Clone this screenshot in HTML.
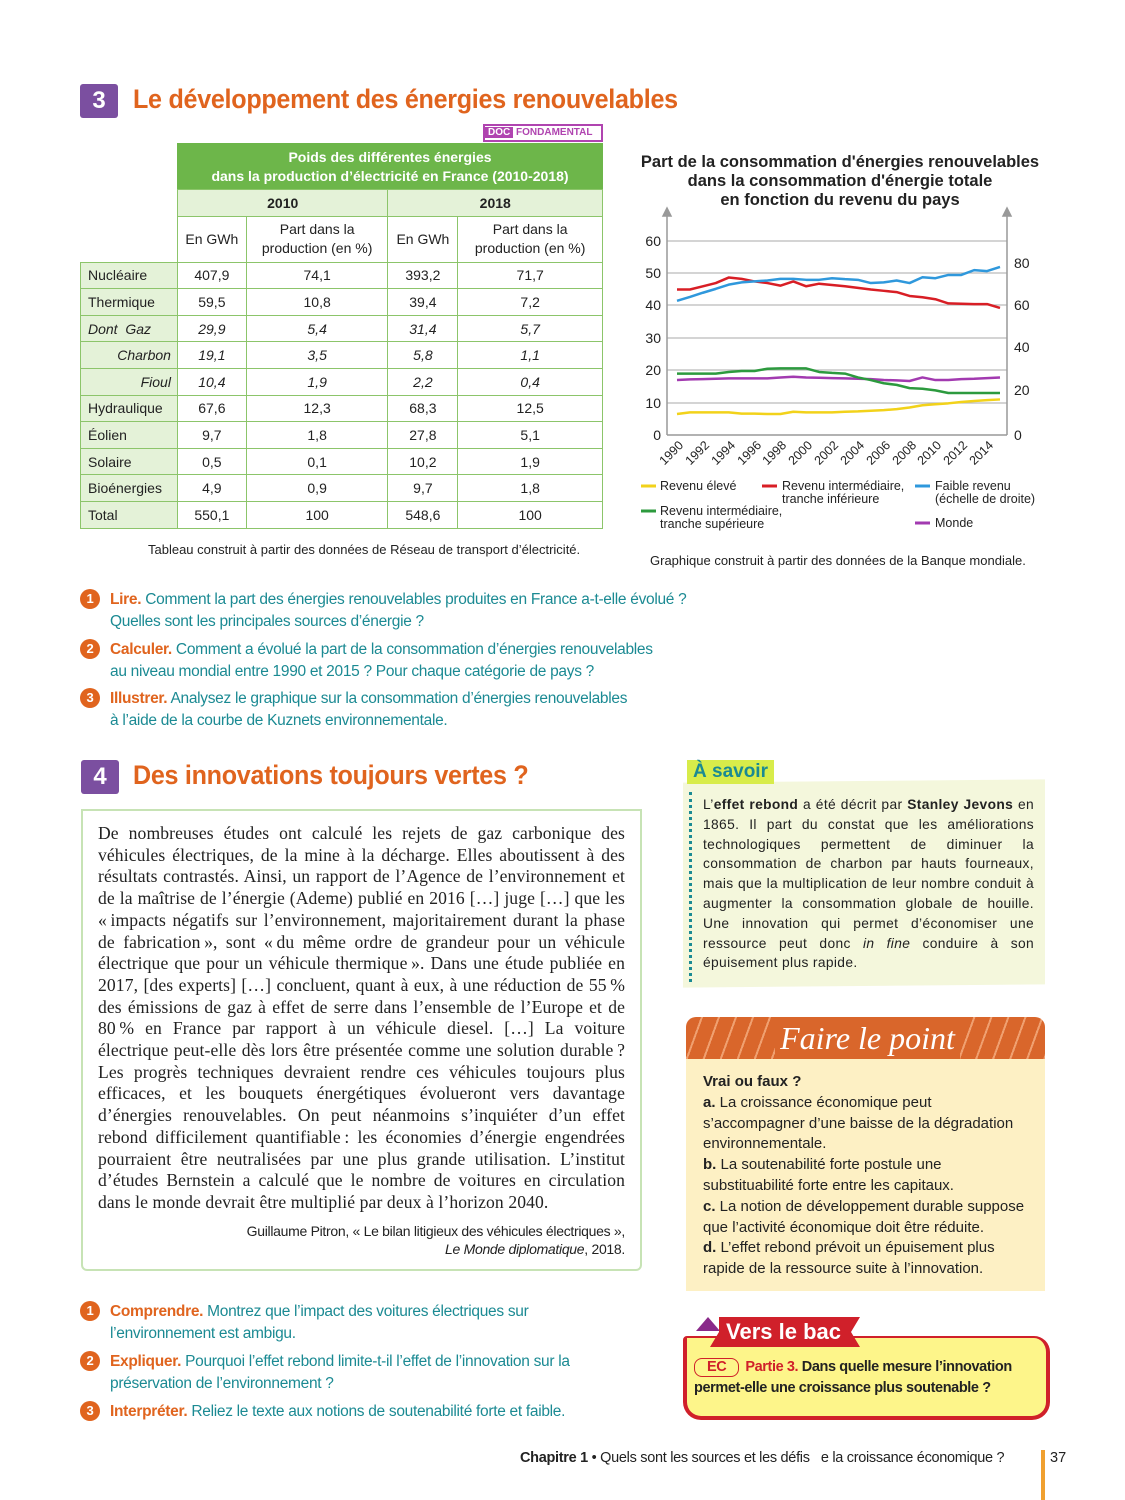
<!DOCTYPE html>
<html><head><meta charset="utf-8"><style>
*{margin:0;padding:0;box-sizing:border-box}
body{width:1125px;height:1500px;position:relative;background:#fff;font-family:"Liberation Sans",sans-serif;color:#222;overflow:hidden}
.a{position:absolute}
.num{background:#7b4fa0;color:#fff;font-weight:bold;font-size:24px;text-align:center;border-radius:3px}
.ttl{color:#e0641e;font-weight:bold;font-size:27px;letter-spacing:-0.3px;transform-origin:0 0;transform:scaleX(0.93);white-space:nowrap}
table{border-collapse:collapse;font-size:14px}
td{border:1px solid #8cc56a;text-align:center;height:26.6px;padding:0}
td.l{background:#e4f2d8;text-align:left;padding-left:7px}
.q{font-size:15.5px;color:#1b8a93;line-height:22px;letter-spacing:-0.3px}
.q b{color:#e0641e}
.c{display:inline-block;width:20px;height:20px;border-radius:50%;background:#e0641e;color:#fff;font-weight:bold;font-size:13px;text-align:center;line-height:20px;position:absolute;left:0;top:0}
.txt{font-family:"Liberation Serif",serif;font-size:17.6px;line-height:21.7px;text-align:justify;color:#222;letter-spacing:0.1px}
.lg{font-size:12.5px;line-height:13px;color:#222}
</style></head><body>

<div class="a num" style="left:80px;top:84px;width:38px;height:34px;line-height:34px">3</div>
<div class="a ttl" style="left:133px;top:84px">Le développement des énergies renouvelables</div>
<div class="a" style="left:483px;top:124px;width:120px;height:18px;border:2px solid #b044b0;font-size:10px;font-weight:bold;line-height:14px;color:#b044b0;white-space:nowrap;overflow:hidden"><span style="background:#b044b0;color:#fff;padding:0 3px">DOC</span> FONDAMENTAL</div>

<div class="a" style="left:177px;top:143px;width:426px;height:46px;background:#6db64a;color:#fff;font-weight:bold;font-size:14px;text-align:center;line-height:19px;padding-top:5px">Poids des différentes énergies<br>dans la production d’électricité en France (2010-2018)</div>
<table class="a" style="left:80px;top:189px;width:523px">
<colgroup><col style="width:97px"><col style="width:69px"><col style="width:142px"><col style="width:70px"><col style="width:145px"></colgroup>
<tr><td style="border:none;border-right:1px solid #8cc56a"></td><td colspan="2" style="background:#e4f2d8;font-weight:bold">2010</td><td colspan="2" style="background:#e4f2d8;font-weight:bold">2018</td></tr>
<tr style="height:46px"><td style="border:none;border-right:1px solid #8cc56a;border-bottom:1px solid #8cc56a"></td><td>En GWh</td><td style="line-height:19px">Part dans la<br>production (en %)</td><td>En GWh</td><td style="line-height:19px">Part dans la<br>production (en %)</td></tr>
<tr><td class="l">Nucléaire</td><td>407,9</td><td>74,1</td><td>393,2</td><td>71,7</td></tr>
<tr><td class="l">Thermique</td><td>59,5</td><td>10,8</td><td>39,4</td><td>7,2</td></tr>
<tr style="font-style:italic"><td class="l">Dont &nbsp;<i>Gaz</i></td><td>29,9</td><td>5,4</td><td>31,4</td><td>5,7</td></tr>
<tr style="font-style:italic"><td class="l" style="text-align:right;padding-right:6px">Charbon</td><td>19,1</td><td>3,5</td><td>5,8</td><td>1,1</td></tr>
<tr style="font-style:italic"><td class="l" style="text-align:right;padding-right:6px">Fioul</td><td>10,4</td><td>1,9</td><td>2,2</td><td>0,4</td></tr>
<tr><td class="l">Hydraulique</td><td>67,6</td><td>12,3</td><td>68,3</td><td>12,5</td></tr>
<tr><td class="l">Éolien</td><td>9,7</td><td>1,8</td><td>27,8</td><td>5,1</td></tr>
<tr><td class="l">Solaire</td><td>0,5</td><td>0,1</td><td>10,2</td><td>1,9</td></tr>
<tr><td class="l">Bioénergies</td><td>4,9</td><td>0,9</td><td>9,7</td><td>1,8</td></tr>
<tr><td class="l">Total</td><td>550,1</td><td>100</td><td>548,6</td><td>100</td></tr>
</table>
<div class="a" style="left:148px;top:542px;font-size:13px">Tableau construit à partir des données de Réseau de transport d’électricité.</div>

<div class="a" style="left:640px;top:153px;width:400px;text-align:center;font-weight:bold;font-size:16.5px;line-height:19px">Part de la consommation d'énergies renouvelables<br>dans la consommation d'énergie totale<br>en fonction du revenu du pays</div>

<svg class="a" style="left:0;top:0" width="1125" height="600">
<g stroke="#bbb" stroke-width="1.2">
<line x1="667" y1="241" x2="1007" y2="241"/><line x1="667" y1="273" x2="1007" y2="273"/><line x1="667" y1="305" x2="1007" y2="305"/><line x1="667" y1="338" x2="1007" y2="338"/><line x1="667" y1="370" x2="1007" y2="370"/><line x1="667" y1="403" x2="1007" y2="403"/>
</g>
<g stroke="#999" stroke-width="1.5" fill="#999">
<line x1="667" y1="215" x2="667" y2="435"/><line x1="1007" y1="215" x2="1007" y2="435"/><line x1="667" y1="435" x2="1007" y2="435"/>
<polygon points="663,216 671,216 667,208"/><polygon points="1003,216 1011,216 1007,208"/>
</g>
<g font-size="14" fill="#222" text-anchor="end" font-family="Liberation Sans">
<text x="661" y="246">60</text><text x="661" y="278">50</text><text x="661" y="310">40</text><text x="661" y="343">30</text><text x="661" y="375">20</text><text x="661" y="408">10</text><text x="661" y="440">0</text>
</g>
<g font-size="14" fill="#222" font-family="Liberation Sans">
<text x="1014" y="268">80</text><text x="1014" y="310">60</text><text x="1014" y="352">40</text><text x="1014" y="395">20</text><text x="1014" y="440">0</text>
</g>
<g font-size="12.5" fill="#222" text-anchor="end" font-family="Liberation Sans">
<text transform="translate(684,446) rotate(-45)">1990</text><text transform="translate(710,446) rotate(-45)">1992</text><text transform="translate(736,446) rotate(-45)">1994</text><text transform="translate(762,446) rotate(-45)">1996</text><text transform="translate(787,446) rotate(-45)">1998</text><text transform="translate(813,446) rotate(-45)">2000</text><text transform="translate(839,446) rotate(-45)">2002</text><text transform="translate(865,446) rotate(-45)">2004</text><text transform="translate(891,446) rotate(-45)">2006</text><text transform="translate(917,446) rotate(-45)">2008</text><text transform="translate(942,446) rotate(-45)">2010</text><text transform="translate(968,446) rotate(-45)">2012</text><text transform="translate(994,446) rotate(-45)">2014</text>
</g>
<g transform="translate(677,435) scale(12.92,-3.233)" fill="none" stroke-width="2.5" stroke-linejoin="round">
<polyline vector-effect="non-scaling-stroke" stroke="#f2d21a" points="0,6.5 1,7 2,7 3,7 4,7 5,6.6 6,6.6 7,6.5 8,6.5 9,7.2 10,7 11,7 12,7 13,7.2 14,7.3 15,7.5 16,7.7 17,8 18,8.5 19,9.2 20,9.5 21,9.8 22,10.2 23,10.5 24,10.8 25,11"/>
<polyline vector-effect="non-scaling-stroke" stroke="#a23ab0" points="0,17 1,17.2 2,17.3 3,17.4 4,17.5 5,17.5 6,17.5 7,17.5 8,17.8 9,18 10,17.8 11,17.7 12,17.6 13,17.5 14,17.4 15,17.3 16,17 17,16.9 18,16.7 19,17.8 20,17 21,17 22,17.3 23,17.4 24,17.6 25,17.8"/>
<polyline vector-effect="non-scaling-stroke" stroke="#2c9a3e" points="0,19 1,19 2,19 3,19 4,19.5 5,19.8 6,19.8 7,20.5 8,20.6 9,20.6 10,20.6 11,19.5 12,19.2 13,19 14,17.8 15,17 16,16 17,15.5 18,14.5 19,14.3 20,13.8 21,13 22,13 23,13 24,13 25,13"/>
<polyline vector-effect="non-scaling-stroke" stroke="#d81e25" points="0,45 1,45 2,46 3,47 4,48.7 5,48.3 6,47.5 7,47 8,46.2 9,47.5 10,46 11,46.8 12,46.4 13,46 14,45.5 15,45 16,44.6 17,44.2 18,43 19,42.6 20,42 21,40.7 22,40.6 23,40.5 24,40.5 25,39.3"/>
<polyline vector-effect="non-scaling-stroke" stroke="#2f98dc" points="0,41.5 1,42.7 2,44 3,45.2 4,46.5 5,47.2 6,47.5 7,47.8 8,48.3 9,48.3 10,48 11,48 12,48.5 13,48.2 14,48 15,47 16,47.2 17,47.8 18,47 19,48.8 20,48.5 21,49.5 22,49.5 23,51 24,50.7 25,52"/>
</g>
<g stroke-width="3">
<line x1="641" y1="486" x2="656" y2="486" stroke="#f2d21a"/><line x1="762" y1="486" x2="777" y2="486" stroke="#d81e25"/><line x1="915" y1="486" x2="930" y2="486" stroke="#2f98dc"/><line x1="641" y1="511" x2="656" y2="511" stroke="#2c9a3e"/><line x1="915" y1="523" x2="930" y2="523" stroke="#a23ab0"/>
</g>
</svg>
<div class="a lg" style="left:660px;top:480px">Revenu élevé</div>
<div class="a lg" style="left:782px;top:480px">Revenu intermédiaire,<br>tranche inférieure</div>
<div class="a lg" style="left:935px;top:480px">Faible revenu<br>(échelle de droite)</div>
<div class="a lg" style="left:660px;top:505px">Revenu intermédiaire,<br>tranche supérieure</div>
<div class="a lg" style="left:935px;top:517px">Monde</div>
<div class="a" style="left:650px;top:553px;font-size:13px">Graphique construit à partir des données de la Banque mondiale.</div>

<div class="a q" style="left:80px;top:589px;width:650px;padding-left:30px"><span class="c">1</span><b>Lire.</b> Comment la part des énergies renouvelables produites en France a-t-elle évolué ?<br>Quelles sont les principales sources d’énergie ?</div>
<div class="a q" style="left:80px;top:639px;width:650px;padding-left:30px"><span class="c">2</span><b>Calculer.</b> Comment a évolué la part de la consommation d’énergies renouvelables<br>au niveau mondial entre 1990 et 2015 ? Pour chaque catégorie de pays ?</div>
<div class="a q" style="left:80px;top:688px;width:650px;padding-left:30px"><span class="c">3</span><b>Illustrer.</b> Analysez le graphique sur la consommation d’énergies renouvelables<br>à l’aide de la courbe de Kuznets environnementale.</div>

<div class="a num" style="left:81px;top:760px;width:38px;height:34px;line-height:34px">4</div>
<div class="a ttl" style="left:133px;top:760px">Des innovations toujours vertes ?</div>

<div class="a" style="left:81px;top:809px;width:561px;height:462px;border:2px solid #c7e3b5;border-radius:0 0 6px 6px"></div>
<div class="a txt" style="left:98px;top:823px;width:527px">De nombreuses études ont calculé les rejets de gaz carbonique des véhicules électriques, de la mine à la décharge. Elles aboutissent à des résultats contrastés. Ainsi, un rapport de l’Agence de l’environnement et de la maîtrise de l’énergie (Ademe) publié en 2016 […] juge […] que les «&#8239;impacts négatifs sur l’environnement, majoritairement durant la phase de fabrication&#8239;», sont «&#8239;du même ordre de grandeur pour un véhicule électrique que pour un véhicule thermique&#8239;». Dans une étude publiée en 2017, [des experts] […] concluent, quant à eux, à une réduction de 55&#8239;% des émissions de gaz à effet de serre dans l’ensemble de l’Europe et de 80&#8239;% en France par rapport à un véhicule diesel. […] La voiture électrique peut-elle dès lors être présentée comme une solution durable&#8239;? Les progrès techniques devraient rendre ces véhicules toujours plus efficaces, et les bouquets énergétiques évolueront vers davantage d’énergies renouvelables. On peut néanmoins s’inquiéter d’un effet rebond difficilement quantifiable&#8239;: les économies d’énergie engendrées pourraient être neutralisées par une plus grande utilisation. L’institut d’études Bernstein a calculé que le nombre de voitures en circulation dans le monde devrait être multiplié par deux à l’horizon 2040.</div>
<div class="a" style="left:200px;top:1222px;width:425px;text-align:right;font-size:14px;line-height:18px;letter-spacing:-0.3px">Guillaume Pitron, « Le bilan litigieux des véhicules électriques »,<br><i>Le Monde diplomatique</i>, 2018.</div>

<div class="a q" style="left:80px;top:1301px;width:600px;padding-left:30px"><span class="c">1</span><b>Comprendre.</b> Montrez que l’impact des voitures électriques sur<br>l’environnement est ambigu.</div>
<div class="a q" style="left:80px;top:1351px;width:600px;padding-left:30px"><span class="c">2</span><b>Expliquer.</b> Pourquoi l’effet rebond limite-t-il l’effet de l’innovation sur la<br>préservation de l’environnement ?</div>
<div class="a q" style="left:80px;top:1401px;width:600px;padding-left:30px"><span class="c">3</span><b>Interpréter.</b> Reliez le texte aux notions de soutenabilité forte et faible.</div>

<div class="a" style="left:683px;top:781px;width:362px;height:205px;background:#f4f7dc;transform:skewY(-0.5deg)"></div>
<div class="a" style="left:687px;top:760px;background:#d8ec4a;color:#1a8a93;font-weight:bold;font-size:19px;padding:0 6px;height:24px;line-height:24px">À savoir</div>
<div class="a" style="left:689px;top:792px;height:190px;border-left:3px dotted #1a8a93"></div>
<div class="a" style="left:703px;top:795px;width:331px;font-size:13.8px;line-height:19.8px;text-align:justify;letter-spacing:0.35px">L’<b>effet rebond</b> a été décrit par <b>Stanley Jevons</b> en 1865. Il part du constat que les améliorations technologiques permettent de diminuer la consommation de charbon par hauts fourneaux, mais que la multiplication de leur nombre conduit à augmenter la consommation globale de houille. Une innovation qui permet d’économiser une ressource peut donc <i>in fine</i> conduire à son épuisement plus rapide.</div>

<div class="a" style="left:686px;top:1017px;width:359px;height:42px;background:#d9662b;border-radius:10px 10px 0 0;background-image:repeating-linear-gradient(110deg,transparent 0 14px,#f0a070 14px 16px)"></div>
<div class="a" style="left:775px;top:1017px;width:185px;height:42px;background:#d9662b;color:#fff;font-family:'Liberation Serif',serif;font-style:italic;font-size:32px;text-align:center;line-height:42px">Faire le point</div>
<div class="a" style="left:686px;top:1059px;width:359px;height:232px;background:#fdf0c4"></div>
<div class="a" style="left:703px;top:1072px;width:328px;font-size:15px;line-height:20.8px;letter-spacing:0px"><b>Vrai ou faux ?</b><br><b>a.</b> La croissance économique peut<br>s’accompagner d’une baisse de la dégradation environnementale.<br><b>b.</b> La soutenabilité forte postule une<br>substituabilité forte entre les capitaux.<br><b>c.</b> La notion de développement durable suppose que l’activité économique doit être réduite.<br><b>d.</b> L’effet rebond prévoit un épuisement plus<br>rapide de la ressource suite à l’innovation.</div>

<div class="a" style="left:683px;top:1336px;width:367px;height:84px;background:#fdf58a;border:4px solid #d0202a;border-top-width:2px;border-radius:4px 16px 18px 18px"></div>
<div class="a" style="left:696px;top:1317px;width:0;height:0;border-left:12px solid transparent;border-right:12px solid transparent;border-bottom:14px solid #8a2a8a"></div>
<div class="a" style="left:710px;top:1317px;width:150px;height:30px;background:#d0202a;color:#fff;font-weight:bold;font-size:22px;line-height:30px;padding-left:16px;clip-path:polygon(6% 0,100% 0,94% 50%,100% 100%,0 100%,6% 50%)">Vers le bac</div>
<div class="a" style="left:694px;top:1357px;width:350px;font-size:14.5px;line-height:21px;font-weight:bold;letter-spacing:-0.4px"><span style="display:inline-block;border:1.5px solid #d0202a;border-radius:8px;color:#d0202a;padding:0 12px;line-height:17px;margin-right:6px">EC</span><span style="color:#d0202a">Partie 3.</span> Dans quelle mesure l’innovation<br>permet-elle une croissance plus soutenable ?</div>

<div class="a" style="left:520px;top:1450px;font-size:14.5px;letter-spacing:-0.3px"><b>Chapitre 1</b> • Quels sont les sources et les défis &nbsp;&nbsp;e la croissance économique ?</div>
<div class="a" style="left:1041px;top:1450px;width:4px;height:50px;background:#f0a030"></div>
<div class="a" style="left:1050px;top:1450px;font-size:14.5px">37</div>
</body></html>
